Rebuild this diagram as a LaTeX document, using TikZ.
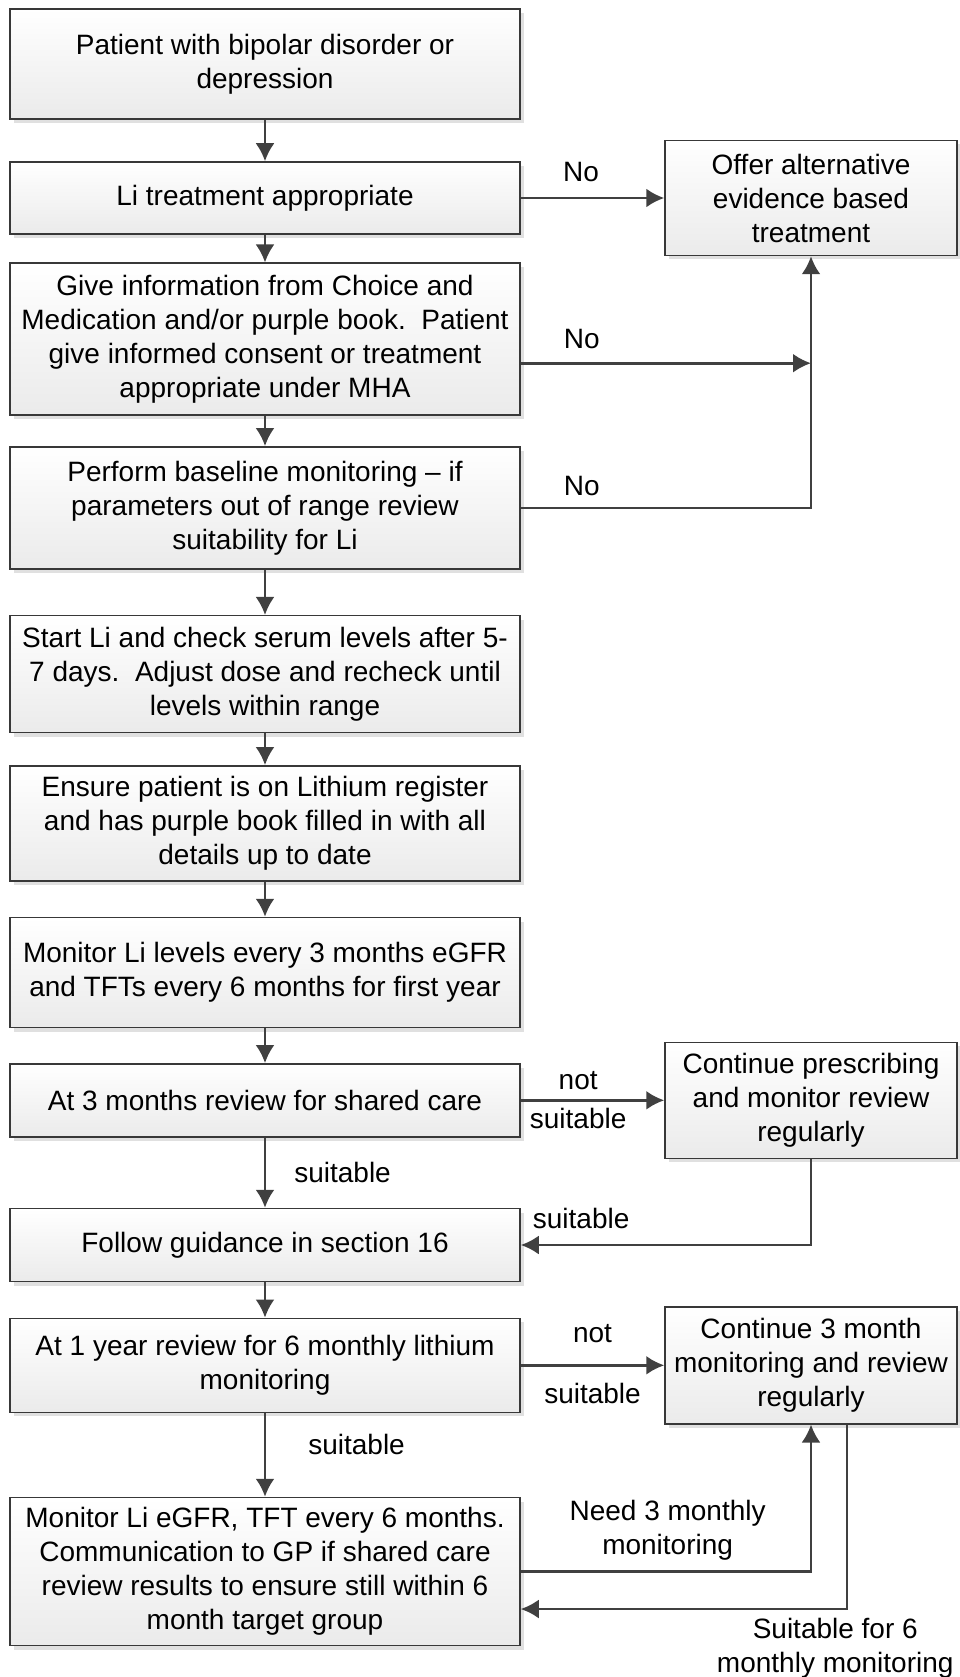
\documentclass[tikz,border=0pt]{standalone}
\usepackage{fontspec}
\setmainfont{Liberation Sans}
\usetikzlibrary{arrows.meta,shadows,positioning}

\begin{document}
\begin{tikzpicture}[x=1pt, y=-1pt, font=\fontsize{28}{34}\selectfont]

        % Setup the styles for the boxes and the links
        \tikzset{box style/.style={rectangle,
                                   draw=black!78,
                                   line width=1.5pt,
                                   align=center,
                                   inner sep=2pt,
                                   top color=white,
                                   bottom color=black!8,
                                   drop shadow={shadow xshift=4pt, shadow yshift=-4pt,
                                                fill=black!12, opacity=1}},
                 main style/.style={box style, minimum width=510pt},
                 side style/.style={box style, minimum width=292pt},
                 link style/.style={draw=black!75,
                                    line width=2.6pt,
                                    -{Latex[length=18pt,width=19pt]}},
                 tag style/.style={inner sep=0pt, align=center}}

        \useasboundingbox (0,0) rectangle (959,1677);

        % Draw the main column
        \node[main style, minimum height=110pt] at (265, 64.2)   (P1)  {Patient with bipolar disorder or\\depression};
        \node[main style, minimum height=72pt]  at (265, 198)    (P2)  {Li treatment appropriate};
        \node[main style, minimum height=152pt] at (265, 339.2)  (P3)  {Give information from Choice and\\Medication and/or purple book.\ \ Patient\\give informed consent or treatment\\appropriate under MHA};
        \node[main style, minimum height=122pt] at (265, 507.8)  (P4)  {Perform baseline monitoring \textendash{} if\\parameters out of range review\\suitability for Li};
        \node[main style, minimum height=117pt] at (265, 674.2)  (P5)  {Start Li and check serum levels after 5-\\7 days.\ \ Adjust dose and recheck until\\levels within range};
        \node[main style, minimum height=115pt] at (265, 823.3)  (P6)  {Ensure patient is on Lithium register\\and has purple book filled in with all\\details up to date};
        \node[main style, minimum height=110pt] at (265, 972.5)  (P7)  {Monitor Li levels every 3 months eGFR\\and TFTs every 6 months for first year};
        \node[main style, minimum height=73pt]  at (265, 1100.3) (P8)  {At 3 months review for shared care};
        \node[main style, minimum height=73pt]  at (265, 1245)   (P9)  {Follow guidance in section 16};
        \node[main style, minimum height=94pt]  at (265, 1365.3) (P10) {At 1 year review for 6 monthly lithium\\monitoring};
        \node[main style, minimum height=148pt] at (265, 1571.5) (P11) {Monitor Li eGFR, TFT every 6 months.\\Communication to GP if shared care\\review results to ensure still within 6\\month target group};

        % Draw the side boxes
        \node[side style, minimum height=115pt] at (811, 198)    (ALT)   {Offer alternative\\evidence based\\treatment};
        \node[side style, minimum height=116pt] at (811, 1100.3) (CONT1) {Continue prescribing\\and monitor review\\regularly};
        \node[side style, minimum height=117pt] at (811, 1365.3) (CONT2) {Continue 3 month\\monitoring and review\\regularly};

        % Connect the main column
        \draw[link style] (P1) -- (P2);
        \draw[link style] (P2) -- (P3);
        \draw[link style] (P3) -- (P4);
        \draw[link style] (P4) -- (P5);
        \draw[link style] (P5) -- (P6);
        \draw[link style] (P6) -- (P7);
        \draw[link style] (P7) -- (P8);
        \draw[link style] (P8) -- node[tag style, right=28pt] (L4) {suitable} (P9);
        \draw[link style] (P9) -- (P10);
        \draw[link style] (P10) -- node[tag style, pos=0.38, right=42pt] (L7) {suitable} (P11);

        % Connect the side branches
        \draw[link style] (P2) -- node[tag style, pos=0.42, above=15pt] (L1) {No} (ALT);
        \draw[link style] ([yshift=-24pt]P3.east) -- node[tag style, pos=0.21, above=13pt] (L2) {No}
            ([yshift=-24pt]P3.east -| ALT.south);
        \draw[link style] (P4.east) -| node[tag style, pos=0.105, above=10.5pt] (L3) {No} (ALT.south);
        \draw[link style] (P8) -- node[tag style, pos=0.4, above=9.5pt] (L5a) {not}
                                  node[tag style, pos=0.4, below=7pt] (L5b) {suitable} (CONT1);
        \draw[link style] (CONT1.south) |- node[tag style, pos=0.896, above=15pt] (L6) {suitable} (P9.east);
        \draw[link style] (P10) -- node[tag style, pos=0.5, above=21pt] (L8a) {not}
                                   node[tag style, pos=0.5, below=16.5pt] (L8b) {suitable} (CONT2);
        \draw[link style] (P11.east) -| node[tag style, pos=0.253, above=10pt] (L9) {Need 3 monthly\\monitoring} (CONT2.south);
        \draw[link style] ([xshift=36pt]CONT2.south) |- node[tag style, pos=0.518, below=7.6pt] (L10) {Suitable for 6\\monthly monitoring}
            ([yshift=-37.5pt]P11.east);
    \end{tikzpicture}
\end{document}
